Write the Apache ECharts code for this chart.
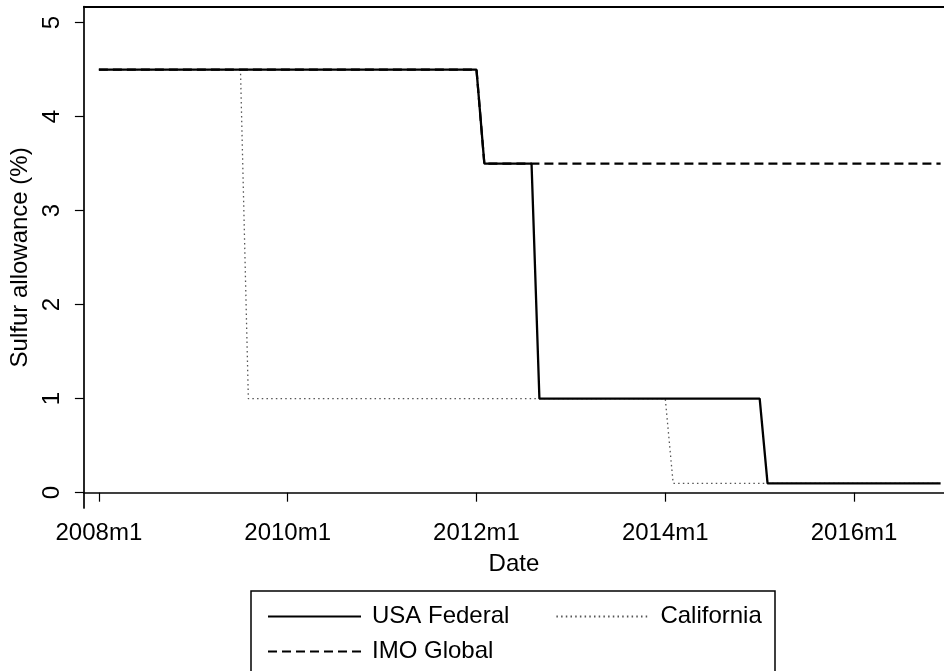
<!DOCTYPE html>
<html>
<head>
<meta charset="utf-8">
<script src="https://cdn.jsdelivr.net/npm/echarts@6/dist/echarts.min.js"></script>
<style>
html,body{margin:0;padding:0;background:#fff;}
#chart{width:944px;height:671px;}
</style>
</head>
<body>
<div id="chart"></div>
<script>
// ---- Data (monthly breakpoints) ----
const fedDates   = ['2008m1','2012m1','2012m2','2012m8','2012m9','2015m1','2015m2','2016m12'];
const fedValues  = [4.5, 4.5, 3.5, 3.5, 1.0, 1.0, 0.1, 0.1];

const caDates    = ['2008m1','2009m7','2009m8','2014m1','2014m2','2016m12'];
const caValues   = [4.5, 4.5, 1.0, 1.0, 0.1, 0.1];

const imoDates   = ['2008m1','2012m1','2012m2','2016m12'];
const imoValues  = [4.5, 4.5, 3.5, 3.5];

const seriesNames = ['USA Federal', 'California', 'IMO Global'];
const xTickLabels = ['2008m1','2010m1','2012m1','2014m1','2016m1'];
const yTickValues = [0, 1, 2, 3, 4, 5];

// month index relative to 2008m1
function monthIndex(s) {
  const p = s.split('m');
  return (parseInt(p[0], 10) - 2008) * 12 + (parseInt(p[1], 10) - 1);
}
function pairs(dates, vals) {
  return dates.map((d, i) => [monthIndex(d), vals[i]]);
}
const xTickValues = xTickLabels.map(monthIndex);
const labelByIndex = {};
xTickLabels.forEach(l => { labelByIndex[monthIndex(l)] = l; });

const FONT = "'Liberation Sans', Arial, Helvetica, sans-serif";
const xMin = -1.905, xMax = 107.43;

const chart = echarts.init(document.getElementById('chart'), null, {renderer: 'canvas'});
chart.setOption({
  backgroundColor: '#fff',
  animation: false,
  textStyle: {fontFamily: FONT},
  grid: {left: 83, right: 0, top: 6.7, bottom: 163, containLabel: false},
  xAxis: [{
    type: 'value', min: xMin, max: xMax, position: 'bottom',
    axisLine: {show: true, lineStyle: {color: '#000', width: 1.7}},
    axisTick: {show: true, customValues: xTickValues, length: 9, lineStyle: {color: '#000', width: 1.2}},
    axisLabel: {show: true, customValues: xTickValues, formatter: v => labelByIndex[Math.round(v)] || '',
      fontSize: 24, color: '#000', fontFamily: FONT, margin: 13},
    splitLine: {show: false},
    name: 'Date', nameLocation: 'middle', nameGap: 44,
    nameTextStyle: {fontSize: 24, color: '#000', fontFamily: FONT}
  }, {
    type: 'value', min: xMin, max: xMax, position: 'top',
    axisLine: {show: true, onZero: false, lineStyle: {color: '#000', width: 2}},
    axisTick: {show: false}, axisLabel: {show: false}, splitLine: {show: false}
  }],
  yAxis: {
    type: 'value', min: -0.1628, max: 5.17,
    axisLine: {show: true, onZero: false, lineStyle: {color: '#000', width: 1.7}},
    axisTick: {show: true, customValues: yTickValues, length: 9, lineStyle: {color: '#000', width: 1.2}},
    axisLabel: {show: true, customValues: yTickValues, rotate: 90, fontSize: 24, color: '#000',
      fontFamily: FONT, margin: 20},
    splitLine: {show: false},
    name: 'Sulfur allowance (%)', nameLocation: 'middle', nameGap: 46,
    nameTextStyle: {fontSize: 24, color: '#000', fontFamily: FONT}
  },
  legend: {
    left: 262, top: 599, width: 560,
    orient: 'horizontal',
    itemWidth: 93, itemHeight: 14, itemGap: 10,
    data: seriesNames,
    itemStyle: {opacity: 0},
    textStyle: {fontSize: 24, color: '#000', fontFamily: FONT, lineHeight: 25, padding: [0, 36, 0, 6]},
    selectedMode: false
  },
  graphic: [{
    type: 'rect',
    shape: {x: 251, y: 591, width: 524, height: 110},
    style: {fill: 'none', stroke: '#000', lineWidth: 1.5},
    silent: true
  }],
  series: [{
    name: seriesNames[0], type: 'line', symbol: 'none', z: 3,
    data: pairs(fedDates, fedValues),
    lineStyle: {color: '#000', width: 2.3, type: 'solid'},
    itemStyle: {color: '#000'}
  }, {
    name: seriesNames[1], type: 'line', symbol: 'none', z: 2,
    data: pairs(caDates, caValues),
    lineStyle: {color: '#555', width: 1.3, type: [1.5, 3.2]},
    itemStyle: {color: '#555'}
  }, {
    name: seriesNames[2], type: 'line', symbol: 'none', z: 4,
    data: pairs(imoDates, imoValues),
    lineStyle: {color: '#000', width: 2.2, type: [9, 5]},
    itemStyle: {color: '#000'}
  }]
});
</script>
</body>
</html>
